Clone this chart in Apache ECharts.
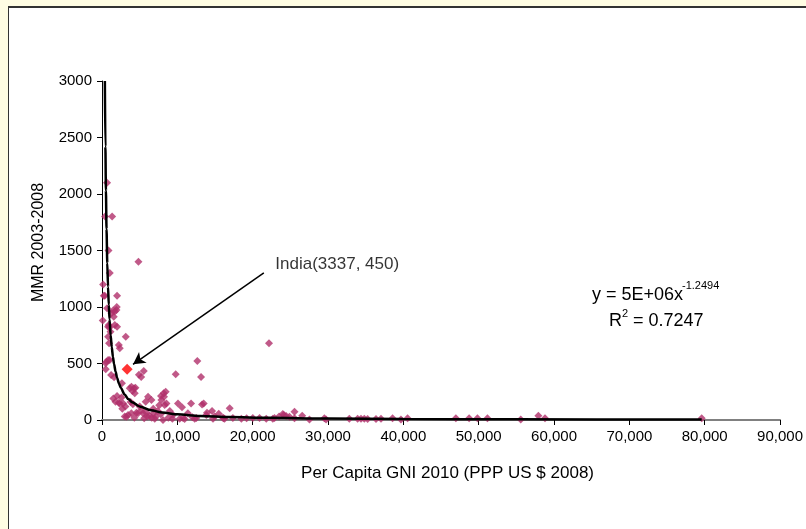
<!DOCTYPE html>
<html>
<head>
<meta charset="utf-8">
<script src="https://cdn.jsdelivr.net/npm/echarts/dist/echarts.min.js"></script>
<style>
    body { margin: 0; background: #FFFDE3; overflow: hidden; }
    #frame { position: absolute; left: 8px; top: 6px; width: 900px; height: 600px; background: #fff; border-left: 1px solid #333; border-top: 2px solid #333; }
    #chart { position: absolute; left: 0; top: 0; width: 806px; height: 529px; }
</style>
</head>
<body>
<div id="frame"></div>
<div id="chart"></div>
<script>
// GNI per capita (PPP) and MMR
var gni = [675, 410, 1340, 860, 4840, 1030, 150, 240, 370, 2000,
    675, 1960, 1700, 1470, 100, 900, 1700, 810, 1130, 3150,
    810, 940, 2230, 2360, 810, 600, 1030, 500, 500, 5540,
    1210, 1600, 4900, 5200, 4250, 4440, 4040, 4350, 8450, 8230,
    7830, 2000, 1790, 2230, 6110, 5800, 3460, 3250, 2360, 2800,
    3910, 3680, 6560, 8190, 7880, 8550, 8320, 3020, 4780, 5450,
    6860, 8100, 9420, 10750, 12520, 13850, 14950, 16050, 17370, 20020,
    20910, 22900, 24130, 9780, 12650, 13150, 22170, 10090, 10620, 11820,
    13280, 13500, 14610, 13940, 16950, 24000, 25550, 24450, 24880, 26570,
    9340, 10310, 10970, 12300, 14730, 16270, 16140, 21800, 22670, 25550,
    27530, 29520, 29740, 32830, 33930, 34380, 34820, 35260, 36370, 37030,
    38570, 39680, 40560, 46970, 48730, 49830, 51160, 55580, 57920, 58800,
    79600, 4570, 5900, 6330, 7130, 1260, 1920, 1560, 2000, 1030,
    2700, 3100, 3800, 4100, 5000, 5300, 6800, 7400, 7600, 9000,
    1500, 2600, 2650, 3900, 4300, 5600, 6000, 6600, 7000, 7800,
    8800, 11400, 12000, 15500, 18500, 19200, 23500]
var mmr = [2100, 1800, 1800, 1500, 1400, 1300, 1200, 1100, 1100, 1100,
    990, 1000, 960, 970, 880, 840, 840, 825, 780, 737,
    737, 680, 664, 634, 531, 516, 531, 502, 450, 434,
    398, 378, 400, 380, 280, 286, 257, 236, 250, 206,
    212, 212, 162, 153, 206, 162, 44, 29, 147, 147,
    295, 280, 177, 236, 177, 147, 133, 30, 59, 59,
    59, 0, 44, 18, 18, 44, 30, 20, 18, 18,
    18, 18, 44, 404, 522, 381, 679, 147, 112, 147,
    138, 147, 80, 65, 103, 53, 73, 35, 29, 38,
    10, 10, 8, 10, 10, 10, 15, 12, 10, 15,
    5, 15, 5, 10, 12, 10, 12, 8, 8, 10,
    15, 5, 15, 15, 15, 15, 15, 5, 38, 15,
    15, 65, 65, 35, 29, 944, 973, 914, 826, 820,
    100, 120, 160, 140, 120, 90, 100, 80, 130, 80,
    190, 200, 325, 60, 20, 15, 30, 20, 10, 50,
    20, 60, 25, 55, 12, 15, 30]
var india = [3337, 450]

// power trendline, points
var trendX = [380, 450, 520, 600, 700, 800, 900, 1000, 1150, 1300, 1450, 1600, 1800, 2000, 2250, 2500, 3000, 3500, 4000, 5000,
    6500, 8000, 10000, 13000, 17000, 22000, 30000, 40000, 55000, 79600]
var trendY = [3000, 2420, 2030, 1690, 1390, 1180, 1020, 891, 749, 643, 560, 496, 429, 375, 323, 284, 226, 185, 158, 120,
    86, 66, 50, 36, 26, 19, 13, 9, 6, 4]

var xTicks = [0, 10000, 20000, 30000, 40000, 50000, 60000, 70000, 80000, 90000]
var yTicks = [0, 500, 1000, 1500, 2000, 2500, 3000]

var arrowFrom = [21480, 1303]
var arrowTo = [4120, 493]
var labelAt = [23000, 1380]

var points = gni.map(function (v, i) { return [v, mmr[i]] })
var trend = trendX.map(function (v, i) { return [v, trendY[i]] })

var font = 'Liberation Sans, Arial, sans-serif'
var myChart = echarts.init(document.getElementById('chart'))
var option = {
    animation: false,
    textStyle: { fontFamily: font },
    grid: { left: 102, right: 24, top: 81, bottom: 109 },
    xAxis: {
        type: 'value',
        min: xTicks[0],
        max: xTicks[xTicks.length - 1],
        interval: xTicks[1] - xTicks[0],
        name: 'Per Capita GNI 2010 (PPP US $ 2008)',
        nameLocation: 'middle',
        nameGap: 45,
        nameTextStyle: { color: '#000', fontSize: 17, fontFamily: font, padding: [0, 0, 0, 13] },
        splitLine: { show: false },
        axisLine: { lineStyle: { color: '#808080', width: 2 } },
        axisTick: { length: 5, lineStyle: { color: '#000' } },
        axisLabel: {
            color: '#000', fontSize: 15, margin: 9, fontFamily: font,
            formatter: function (v) { return v.toLocaleString('en-US') }
        }
    },
    yAxis: {
        type: 'value',
        min: yTicks[0],
        max: yTicks[yTicks.length - 1],
        interval: yTicks[1] - yTicks[0],
        name: 'MMR 2003-2008',
        nameLocation: 'middle',
        nameGap: 55,
        nameTextStyle: { color: '#000', fontSize: 16, fontFamily: font, padding: [0, 0, 0, 16] },
        splitLine: { show: false },
        axisLine: { show: true, lineStyle: { color: '#000', width: 1 } },
        axisTick: { show: true, length: 5, lineStyle: { color: '#000' } },
        axisLabel: {
            color: '#000', fontSize: 15, margin: 10, fontFamily: font,
            formatter: function (v) { return String(v) }
        }
    },
    series: [
        {
            type: 'scatter',
            symbol: 'diamond',
            symbolSize: 8,
            itemStyle: { color: '#B0306A' },
            data: points,
            z: 2
        },
        {
            type: 'scatter',
            symbol: 'diamond',
            symbolSize: 11,
            itemStyle: { color: '#FF0000' },
            data: [india],
            z: 3,
            markLine: {
                silent: true,
                symbol: ['none', 'arrow'],
                symbolSize: [10, 12],
                label: { show: false },
                lineStyle: { color: '#000', width: 1.5, type: 'solid' },
                data: [[{ coord: arrowFrom }, { coord: arrowTo }]]
            }
        },
        {
            type: 'scatter',
            symbolSize: 0,
            data: [labelAt],
            silent: true,
            label: {
                show: true,
                position: 'right',
                distance: 0,
                color: '#000',
                fontSize: 17,
                fontFamily: font,
                formatter: 'India(3337, 450)'
            }
        },
        {
            type: 'line',
            data: trend,
            smooth: 0.3,
            smoothMonotone: 'x',
            showSymbol: false,
            lineStyle: { color: '#000', width: 2.5 },
            z: 4
        }
    ],
    // trendline equation
    graphic: [
        { type: 'text', left: 592, top: 286, style: { text: 'y = 5E+06x', fontSize: 18, fontFamily: font, fill: '#000' } },
        { type: 'text', left: 682, top: 280, style: { text: '-1.2494', fontSize: 11, fontFamily: font, fill: '#000' } },
        { type: 'text', left: 609, top: 312, style: { text: 'R', fontSize: 18, fontFamily: font, fill: '#000' } },
        { type: 'text', left: 622, top: 308, style: { text: '2', fontSize: 11, fontFamily: font, fill: '#000' } },
        { type: 'text', left: 628, top: 312, style: { text: ' = 0.7247', fontSize: 18, fontFamily: font, fill: '#000' } }
    ]
}
myChart.setOption(option)
</script>
</body>
</html>
